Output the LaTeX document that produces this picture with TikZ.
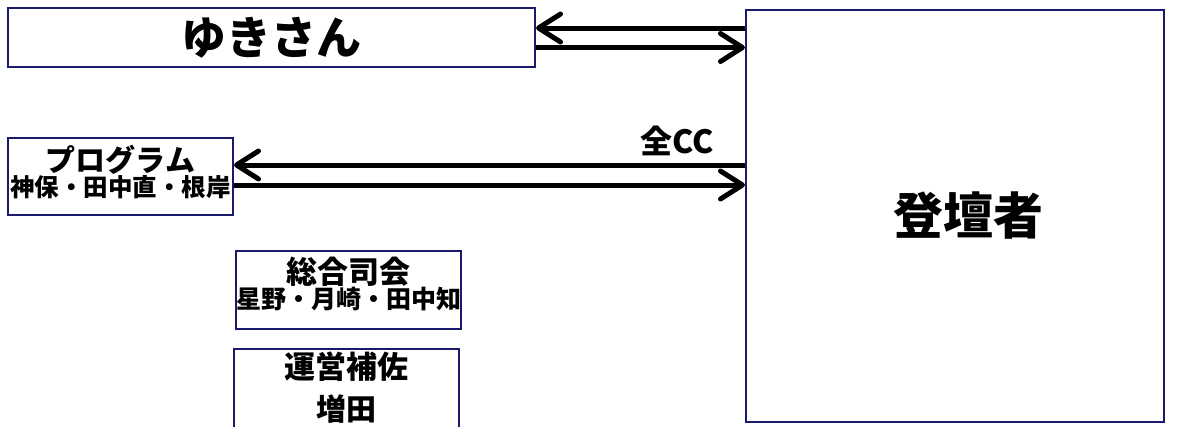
\documentclass[tikz,border=0pt]{standalone}
\usepackage{fontspec}
\setmainfont{Noto Sans CJK JP}
\usepackage{xcolor}
\usepackage{tikz}
\usetikzlibrary{arrows.meta}

\definecolor{boxnavy}{RGB}{25,25,110}
\newcommand{\fs}[1]{\fontsize{#1}{#1}\selectfont}
\tikzset{
	box/.style={draw=boxnavy,line width=2pt,inner sep=0pt,align=center,font=\bfseries},
	link/.style={line width=5pt,-{Straight Barb[length=22pt,width=28pt,round]}}
}

\begin{document}
\begin{tikzpicture}[x=1pt,y=-1pt]
			\useasboundingbox (0,0) rectangle (1202,426);
			\clip (0,0) rectangle (1202,426);
			\node[box,minimum width=527pt,minimum height=59pt] (Y) at (271.5,37.5) {\fs{45}ゆきさん};
			\node[box,minimum width=225pt,minimum height=77pt,text depth=11pt] (P) at (120.5,176.5) {\fs{30}プログラム\\\fs{24.5}神保・田中直・根岸};
			\node[box,minimum width=225pt,minimum height=78pt,text depth=15pt] (S) at (348.5,290) {\fs{31}総合司会\\\fs{25}星野・月崎・田中知};
			\node[box,minimum width=225pt,minimum height=86pt,text depth=12pt] (U) at (346.5,392) {\fs{31}運営補佐\\[12pt]\fs{30}増田};
			\node[box,minimum width=418pt,minimum height=412pt] (T) at (955,216) {\fs{50}\hspace*{26pt}登壇者};
			%
			\path[link]
				([yshift=9.5pt]Y.east -| T.west) edge ([yshift=9.5pt]Y.east)
				([yshift=-10pt]Y.east) edge ([yshift=-10pt]Y.east -| T.west)
				([yshift=11.5pt]P.east -| T.west) edge node[above=5pt,pos=0.133,inner sep=2pt,font=\bfseries\fs{32}]{全CC} ([yshift=11.5pt]P.east)
				([yshift=-8.5pt]P.east) edge ([yshift=-8.5pt]P.east -| T.west);
		\end{tikzpicture}
\end{document}
